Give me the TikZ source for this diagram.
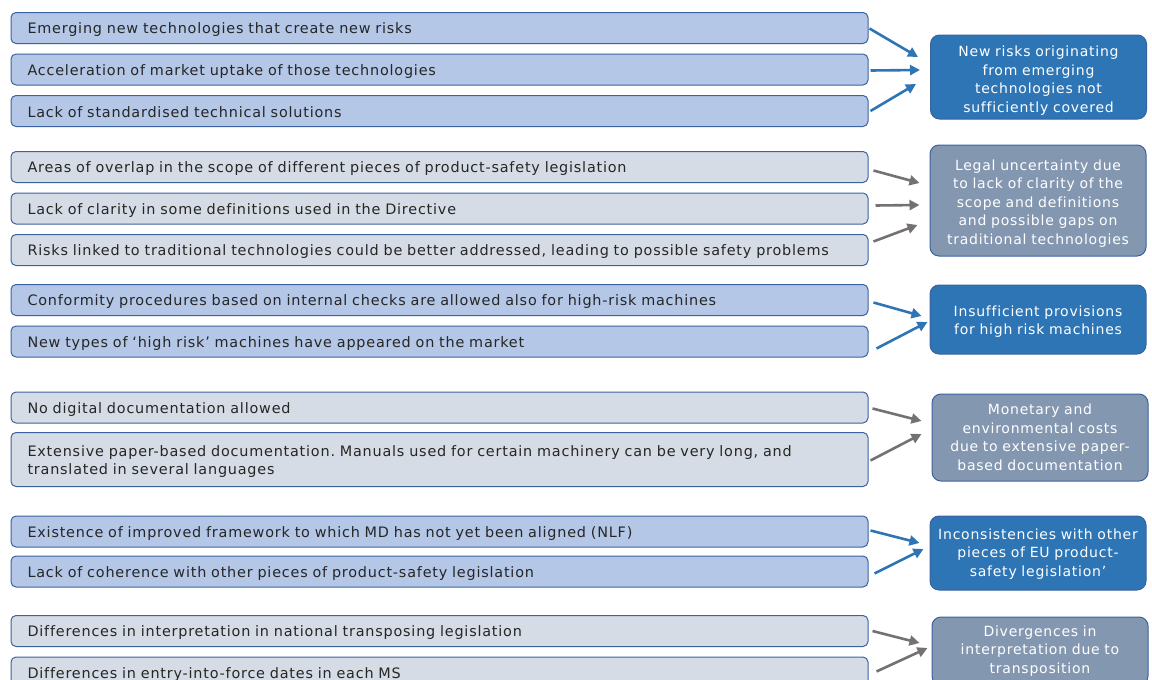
\documentclass[tikz,border=0pt]{standalone}
\usepackage{fontspec}
\setmainfont[LetterSpace=5.5,Ligatures=NoCommon]{DejaVu Sans}
\usetikzlibrary{arrows.meta}
\frenchspacing

\definecolor{causefill}{HTML}{B4C7E7}
\definecolor{greyfill}{HTML}{D6DCE5}
\definecolor{boxline}{HTML}{3B62A0}
\definecolor{effectblue}{HTML}{2E75B6}
\definecolor{effectgrey}{HTML}{8497B0}
\definecolor{arrowgrey}{HTML}{767171}
\definecolor{txt}{HTML}{262626}

\begin{document}
\begin{tikzpicture}[x=1pt,y=-1pt,
    lower/.style ={execute at begin node={\rule{0pt}{#1}}},
    cause/.style ={draw=boxline, line width=1pt, rounded corners=5pt, fill=causefill,
      minimum width=857pt, minimum height=31pt, text width=824pt, inner xsep=16.5pt,
      inner ysep=2pt, align=left, text=txt, font=\fontsize{14.4}{18}\selectfont,
      lower=14pt},
    causegrey/.style ={cause, fill=greyfill},
    effect/.style ={draw=boxline, line width=1pt, rounded corners=9pt, fill=effectblue,
      minimum width=216pt, text width=214pt, inner xsep=1pt, align=center,
      text=white, font=\fontsize{14}{18.5}\selectfont},
    effectgr/.style ={effect, fill=effectgrey},
    arrb/.style ={line width=2.6pt, draw=effectblue, -{Triangle[length=10pt,width=10pt]}},
    arrg/.style ={arrb, draw=arrowgrey}]
   \useasboundingbox (0,0) rectangle (1152,680);
   \clip (0,0) rectangle (1152,680);
   % causes
   \node[cause] (c1) at (439.5,28) {Emerging new technologies that create new risks};
   \node[cause] (c2) at (439.5,69.5) {Acceleration of market uptake of those technologies};
   \node[cause] (c3) at (439.5,111) {Lack of standardised technical solutions};
   \node[causegrey] (c4) at (439.5,167) {Areas of overlap in the scope of different pieces of product-safety legislation};
   \node[causegrey] (c5) at (439.5,208.5) {Lack of clarity in some definitions used in the Directive};
   \node[causegrey] (c6) at (439.5,250) {Risks linked to traditional technologies could be better addressed, leading to possible safety problems};
   \node[cause] (c7) at (439.5,300) {Conformity procedures based on internal checks are allowed also for high-risk machines};
   \node[cause] (c8) at (439.5,341.5) {New types of ‘high risk’ machines have appeared on the market};
   \node[causegrey] (c9) at (439.5,407.5) {No digital documentation allowed};
   \node[causegrey, minimum height=54pt] (c10) at (439.5,459.5) {Extensive paper-based documentation. Manuals used for certain machinery can be very long, and\\translated in several languages};
   \node[cause] (c11) at (439.5,531.5) {Existence of improved framework to which MD has not yet been aligned (NLF)};
   \node[cause] (c12) at (439.5,571.5) {Lack of coherence with other pieces of product-safety legislation};
   \node[causegrey] (c13) at (439.5,631) {Differences in interpretation in national transposing legislation};
   \node[causegrey] (c14) at (439.5,672.5) {Differences in entry-into-force dates in each MS};
   % effects
   \node[effect, lower=17.6pt, minimum width=213pt, minimum height=84pt] (r1) at (1038.5,77) {New risks originating\\from emerging\\technologies not\\sufficiently covered};
   \node[effectgr, lower=16.6pt, minimum height=111pt] (r2) at (1038,200.5) {Legal uncertainty due\\to lack of clarity of the\\scope and definitions\\and possible gaps on\\traditional technologies};
   \node[effect, lower=14.6pt, minimum height=69pt] (r3) at (1038,319.5) {Insufficient provisions\\for high risk machines};
   \node[effectgr, minimum height=87pt] (r4) at (1040,437.5) {Monetary and\\environmental costs\\due to extensive paper-\\based documentation};
   \node[effect, lower=12.6pt, minimum height=74pt] (r5) at (1038,553) {Inconsistencies with other\\pieces of EU product-\\safety legislation’};
   \node[effectgr, minimum height=68pt] (r6) at (1040,651) {Divergences in\\interpretation due to\\transposition};
   % arrows
   \draw[arrb] ([xshift=1pt,yshift=-0.5pt]c1.east) -- ([xshift=-12pt,yshift=20pt]r1.west);
   \draw[arrb] ([xshift=2pt,yshift=-1pt]c2.east) -- ([xshift=-10pt,yshift=7pt]r1.west);
   \draw[arrb] ([xshift=2pt]c3.east) -- ([xshift=-14pt,yshift=-7pt]r1.west);
   \draw[arrg] ([xshift=5pt,yshift=-3.5pt]c4.east) -- ([xshift=-10pt,yshift=17.5pt]r2.west);
   \draw[arrg] ([xshift=7pt,yshift=3pt]c5.east) -- ([xshift=-10pt,yshift=-4.5pt]r2.west);
   \draw[arrg] ([xshift=5pt,yshift=8.5pt]c6.east) -- ([xshift=-12pt,yshift=-24.5pt]r2.west);
   \draw[arrb] ([xshift=5pt,yshift=-2.5pt]c7.east) -- ([xshift=-8pt,yshift=3.5pt]r3.west);
   \draw[arrb] ([xshift=8pt,yshift=-7pt]c8.east) -- ([xshift=-2pt,yshift=-2.5pt]r3.west);
   \draw[arrg] ([xshift=4pt,yshift=-1pt]c9.east) -- ([xshift=-10pt,yshift=16.5pt]r4.west);
   \draw[arrg] ([xshift=2pt,yshift=-1pt]c10.east) -- ([xshift=-10pt,yshift=3.5pt]r4.west);
   \draw[arrb] ([xshift=2pt,yshift=1pt]c11.east) -- ([xshift=-10pt,yshift=10pt]r5.west);
   \draw[arrb] ([xshift=6pt,yshift=-2pt]c12.east) -- ([xshift=-6pt,yshift=4pt]r5.west);
   \draw[arrg] ([xshift=4pt]c13.east) -- ([xshift=-12pt,yshift=8pt]r6.west);
   \draw[arrg] ([xshift=8pt,yshift=1pt]c14.east) -- ([xshift=-4pt,yshift=3pt]r6.west);
 \end{tikzpicture}
\end{document}
